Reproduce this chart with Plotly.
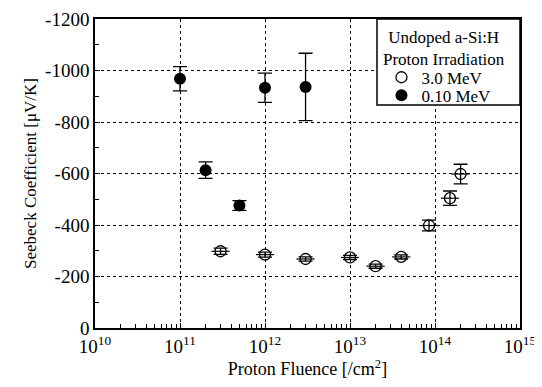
import plotly.graph_objects as go

# 0.10 MeV (filled)
x_low = [1e11, 2e11, 5e11, 1e12, 3e12]
y_low = [-968, -613, -476, -933, -936]
e_low = [47, 32, 19, 57, 131]

# 3.0 MeV (open)
x_high = [3e11, 1e12, 3e12, 1e13, 2e13, 4e13, 8.5e13, 1.5e14, 2e14]
y_high = [-298, -285, -268, -274, -240, -276, -398, -504, -598]
e_high = [12, 10, 8, 8, 8, 8, 21, 28, 38]

xtick_vals = [1e10, 1e11, 1e12, 1e13, 1e14, 1e15]
xtick_text = ["10<sup>10</sup>", "10<sup>11</sup>", "10<sup>12</sup>",
              "10<sup>13</sup>", "10<sup>14</sup>", "10<sup>15</sup>"]
ytick_vals = [0, -200, -400, -600, -800, -1000, -1200]
ytick_text = ["0", "-200", "-400", "-600", "-800", "-1000", "-1200"]

legend_title = "Undoped a-Si:H<br>Proton Irradiation"

FONT = "Liberation Serif, Times New Roman, serif"

fig = go.Figure()
fig.add_trace(go.Scatter(
    x=x_high, y=y_high, mode="markers", name="3.0 MeV", legend="legend",
    marker=dict(symbol="circle-open", size=11, color="black", line=dict(width=1.3)),
    error_y=dict(type="data", array=e_high, color="black", thickness=1.3, width=7),
))
fig.add_trace(go.Scatter(
    x=x_high, y=y_high, mode="markers", showlegend=False, hoverinfo="skip",
    marker=dict(symbol="line-ew-open", size=13, color="black", line=dict(width=1.2)),
))
fig.add_trace(go.Scatter(
    x=x_low, y=y_low, mode="markers", name="0.10 MeV", legend="legend2",
    marker=dict(symbol="circle", size=12, color="black"),
    error_y=dict(type="data", array=e_low, color="black", thickness=1.3, width=7),
))

leg_common = dict(bgcolor="rgba(0,0,0,0)", borderwidth=0, font=dict(size=17, family=FONT),
                  itemwidth=30, xanchor="left", yanchor="middle")

fig.update_layout(
    width=534, height=379,
    margin=dict(l=87, r=22, t=11, b=59, autoexpand=False),
    paper_bgcolor="white", plot_bgcolor="white",
    font=dict(family=FONT, size=16, color="black"),
    legend=dict(x=0.674, y=0.81, **leg_common),
    legend2=dict(x=0.674, y=0.752, **leg_common),
    shapes=[dict(type="rect", xref="paper", yref="paper", x0=0.6635, x1=1.0, y0=0.722, y1=1.0,
                 line=dict(color="black", width=1.5), fillcolor="white", layer="above")],
    annotations=[dict(text=legend_title, xref="paper", yref="paper", x=0.822, y=0.905,
                      xanchor="center", yanchor="middle", showarrow=False, align="center",
                      font=dict(size=17, family=FONT))],
    xaxis=dict(
        type="log", range=[10, 15], automargin=False,
        tickvals=xtick_vals, ticktext=xtick_text, ticklabeloverflow="allow",
        showline=True, linecolor="black", linewidth=1.5, mirror=True,
        showgrid=True, gridcolor="black", griddash="dot", gridwidth=1,
        ticks="inside", ticklen=5, tickcolor="black",
        minor=dict(ticks="inside", ticklen=4, tickcolor="black", dtick="D1", showgrid=False),
        zeroline=False,
        title=dict(text="Proton Fluence [/cm<sup>2</sup>]", font=dict(size=18, family=FONT), standoff=4),
        tickfont=dict(size=19, family=FONT),
    ),
    yaxis=dict(
        range=[0, -1200], automargin=False,
        tickvals=ytick_vals, ticktext=ytick_text, ticklabeloverflow="allow",
        showline=True, linecolor="black", linewidth=1.5, mirror=True,
        showgrid=True, gridcolor="black", griddash="dot", gridwidth=1,
        ticks="inside", ticklen=5, tickcolor="black",
        minor=dict(ticks="inside", ticklen=4, tickcolor="black", dtick=100, showgrid=False),
        zeroline=False,
        title=dict(text="Seebeck Coefficient [μV/K]", font=dict(size=17, family=FONT), standoff=4),
        tickfont=dict(size=19, family=FONT),
    ),
)

fig.write_html("out.html")
